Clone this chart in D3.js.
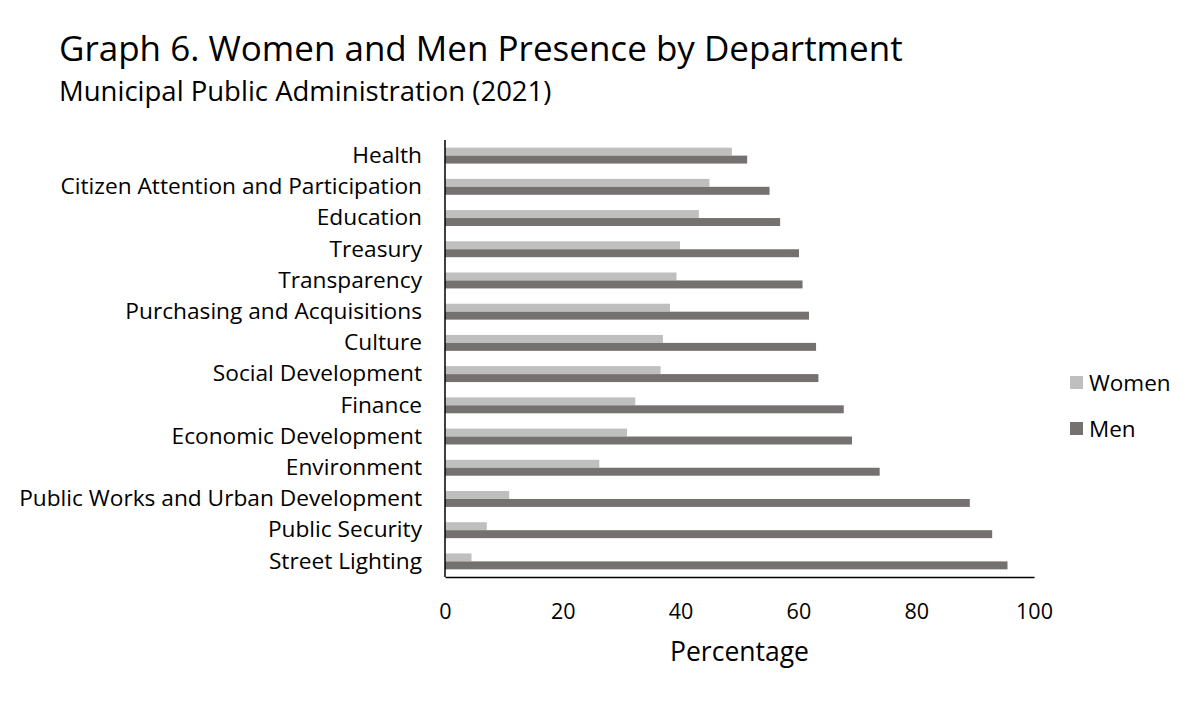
<!DOCTYPE html>
<html>
<head>
<meta charset="utf-8">
<script src="https://cdn.jsdelivr.net/npm/d3@7"></script>
<style>
  body { margin: 0; background: #fff; }
  svg { font-family: "Open Sans", "Noto Sans", sans-serif; }
</style>
</head>
<body>
<svg id="chart" width="1200" height="704"></svg>
<script>
// departments, top to bottom
const departments = [
  "Health", "Citizen Attention and Participation", "Education", "Treasury",
  "Transparency", "Purchasing and Acquisitions", "Culture", "Social Development",
  "Finance", "Economic Development", "Environment",
  "Public Works and Urban Development", "Public Security", "Street Lighting"
];
const women = [48.7, 44.9, 43.1, 39.9, 39.3, 38.2, 37.0, 36.6, 32.3, 30.9, 26.2, 10.9, 7.1, 4.5];
const men   = [51.3, 55.1, 56.9, 60.1, 60.7, 61.8, 63.0, 63.4, 67.7, 69.1, 73.8, 89.1, 92.9, 95.5];
const xTicks = [0, 20, 40, 60, 80, 100];
const seriesNames = ["Women", "Men"];
const colors = ["#bfbfbf", "#767171"];

const svg = d3.select("#chart");
const margin = { left: 445, right: 166, top: 140, bottom: 127 };
const width = 1200, height = 704;

const x = d3.scaleLinear().domain([0, 100]).range([margin.left, width - margin.right]);
const y = d3.scaleBand().domain(departments).range([margin.top, height - margin.bottom]).paddingInner(0.49).paddingOuter(0.245);
const ySub = d3.scaleBand().domain(seriesNames).range([0, y.bandwidth()]);

// title
svg.append("text").attr("x", 59).attr("y", 61)
  .attr("font-size", 35).attr("fill", "#000")
  .text("Graph 6. Women and Men Presence by Department");
svg.append("text").attr("x", 59).attr("y", 101)
  .attr("font-size", 27.5).attr("fill", "#000")
  .text("Municipal Public Administration (2021)");

// bars
const rows = departments.map((d, i) => ({ dept: d, values: [women[i], men[i]] }));
const g = svg.append("g").selectAll("g").data(rows).join("g")
  .attr("transform", d => `translate(0,${y(d.dept)})`);
g.selectAll("rect").data(d => d.values.map((v, j) => ({ key: seriesNames[j], v, j })))
  .join("rect")
  .attr("x", x(0))
  .attr("y", d => ySub(d.key))
  .attr("width", d => x(d.v) - x(0))
  .attr("height", ySub.bandwidth())
  .attr("fill", d => colors[d.j]);

// y axis
const yAxis = svg.append("g").attr("transform", `translate(${x(0)},0)`)
  .call(d3.axisLeft(y).tickSize(0).tickPadding(23));
yAxis.select(".domain").attr("stroke", "#000").attr("stroke-width", 1.5)
  .attr("d", `M0,${margin.top}V${height - margin.bottom}`);
yAxis.selectAll("text").attr("font-size", 22.7).attr("fill", "#000")
  .attr("font-family", "'Open Sans', 'Noto Sans', sans-serif");

// x axis
const xAxis = svg.append("g").attr("transform", `translate(0,${height - margin.bottom})`)
  .call(d3.axisBottom(x).tickValues(xTicks).tickSize(0).tickPadding(27));
xAxis.select(".domain").attr("stroke", "#000").attr("stroke-width", 1.5);
xAxis.selectAll("text").attr("font-size", 21.5).attr("fill", "#000")
  .attr("font-family", "'Open Sans', 'Noto Sans', sans-serif");

svg.append("text").attr("x", (x(0) + x(100)) / 2).attr("y", 661)
  .attr("text-anchor", "middle").attr("font-size", 26.5).attr("fill", "#000")
  .text("Percentage");

// legend
const legend = svg.append("g").selectAll("g").data(seriesNames).join("g")
  .attr("transform", (d, i) => `translate(1070,${383 + i * 46})`);
legend.append("rect").attr("x", 0).attr("y", -7).attr("width", 13).attr("height", 13)
  .attr("fill", (d, i) => colors[i]);
legend.append("text").attr("x", 19).attr("y", 0).attr("dy", "0.35em")
  .attr("font-size", 22.5).attr("fill", "#000").text(d => d);
</script>
</body>
</html>
